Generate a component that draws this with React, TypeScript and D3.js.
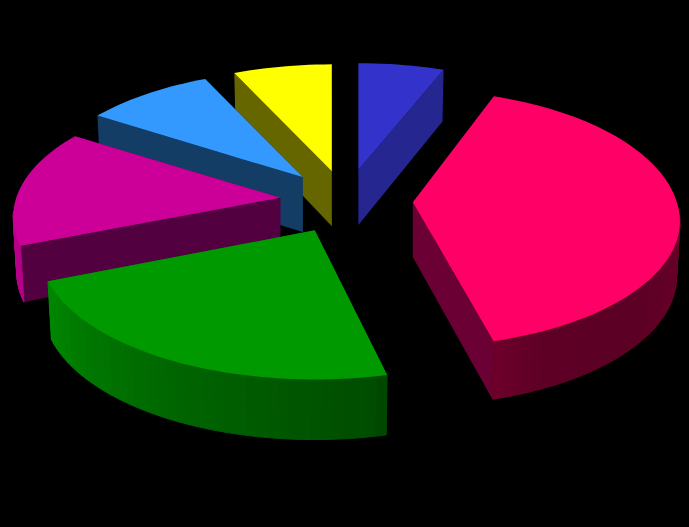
import React from "react";
import * as d3 from "d3";

const categories = ["A", "B", "C", "D", "E", "F"];
const values = [6.0, 39.8, 23, 15.3, 9.0, 6.9];
const topColors = ["#3333CC", "#FF0066", "#009900", "#CC0099", "#3399FF", "#FFFF00"];
const wallColors = ["#262690", "#6A0033", "#005c00", "#520040", "#143D66", "#666600"];
const drawOrder = [0, 5, 4, 3, 1, 2];

// Layout tuning per slice (the reference has perspective, nearer slices look larger)
const sliceScale = [1, 1, 1.03, 1, 1, 1];
const sliceStartShift = [0, -1.1, 2, 0.6, 0, 0];
const sliceBackStretch = [1, 1.05, 1, 1, 1, 1];
const sliceExtraDepth = [0, 0, 2, 0, 0, 0];
const apexShift = [[0, 0], [1, 0], [-2, 2], [0, 0], [0, 0], [0, 1]];

const W = 689, H = 527;
const cx = 346, cy = 200.5;
const R = 264, A = 123, K = 0.151;
const explodeX = 66, explodeY = 31;
const depthMid = 55, depthTilt = 5, shrink = 0.987;

const project = (u: number, v: number): [number, number] => [
  (R * u) / (1 - K * v),
  (A * v) / (1 - K * v),
];

const shade = d3.scaleLinear()
  .domain([0, 90, 130, 155, 165, 170, 210, 250, 280, 360])
  .range([0.45, 0.44, 0.36, 0.37, 0.43, 0.5, 0.68, 0.9, 0.88, 0.6]);

const line = d3.line();
const pieGen = d3.pie<number>().sort(null).startAngle(0).endAngle(2 * Math.PI);

function Slice({ d, i }: { d: d3.PieArcDatum<number>; i: number }) {
  const mid = (d.startAngle + d.endAngle) / 2;
  const ax = cx + explodeX * Math.sin(mid) + apexShift[i][0];
  const ay = cy - explodeY * Math.cos(mid) + apexShift[i][1];
  const sc = sliceScale[i];
  const rad = Math.PI / 180;
  const a0 = d.startAngle + sliceStartShift[i] * rad;
  const a1 = d.endAngle;
  const stretch = (v: number) => (v < 0 ? sliceBackStretch[i] : 1);

  const top = (u: number, v: number): [number, number] => {
    const [x, y] = project(u, v);
    return [ax + x * sc, ay + y * sc * stretch(v)];
  };
  const bottom = (u: number, v: number): [number, number] => {
    const [x, y] = project(u, v);
    return [
      ax + x * sc * shrink,
      ay + y * sc * shrink * stretch(v) + depthMid + sliceExtraDepth[i] + depthTilt * v,
    ];
  };
  const uv = (t: number): [number, number] => [Math.sin(t), -Math.cos(t)];

  const n = Math.max(4, Math.ceil((a1 - a0) / rad / 2));
  const ts = d3.range(n + 1).map((k) => a0 + ((a1 - a0) * k) / n);
  const rim = ts.map((t) => top(...uv(t)));

  const base = d3.rgb(topColors[i]);
  const quads = ts.slice(0, -1)
    .filter((t, k) => uv((t + ts[k + 1]) / 2)[1] > 0.1)
    .map((t) => {
      const t2 = t + (a1 - a0) / n;
      const b = shade((t + t2) / 2 / rad);
      const col = d3.rgb(base.r * b, base.g * b, base.b * b).formatHex();
      return {
        col,
        path: line([top(...uv(t)), top(...uv(t2)), bottom(...uv(t2)), bottom(...uv(t))])! + "Z",
      };
    });

  const wall = (t: number) =>
    line([top(0, 0), top(...uv(t)), bottom(...uv(t)), bottom(0, 0)])! + "Z";

  return (
    <g>
      <path d={wall(a0)} fill={wallColors[i]} />
      <path d={wall(a1)} fill={wallColors[i]} />
      {quads.map((q, k) => (
        <path key={k} d={q.path} fill={q.col} stroke={q.col} strokeWidth={1} />
      ))}
      <path d={line([top(0, 0), ...rim])! + "Z"} fill={topColors[i]} />
    </g>
  );
}

export default function App() {
  const arcs = pieGen(values);
  return (
    <svg
      width={W}
      height={H}
      viewBox={`0 0 ${W} ${H}`}
      style={{ position: "absolute", left: 0, top: 0, display: "block" }}
    >
      <rect width={W} height={H} fill="#000000" />
      {drawOrder.map((i) => (
        <Slice key={categories[i]} d={arcs[i]} i={i} />
      ))}
    </svg>
  );
}
